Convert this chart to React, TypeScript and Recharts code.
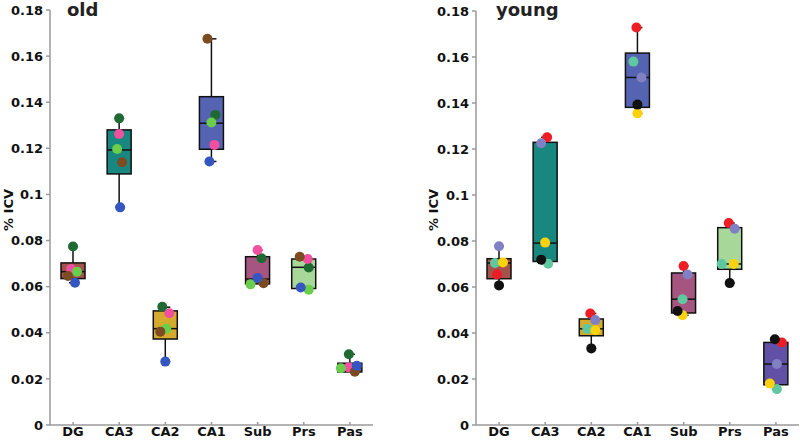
import { Bar, ComposedChart, XAxis, YAxis } from "recharts";

const categories = ["DG", "CA3", "CA2", "CA1", "Sub", "Prs", "Pas"];
const yTicks = [0, 0.02, 0.04, 0.06, 0.08, 0.1, 0.12, 0.14, 0.16, 0.18];

// old: box statistics per region
const oldLow = [0.0617, 0.0944, 0.0275, 0.1143, 0.0612, 0.0592, 0.023];
const oldQ1 = [0.0635, 0.1089, 0.0373, 0.1196, 0.0612, 0.0592, 0.023];
const oldMedian = [0.0665, 0.1193, 0.0418, 0.1309, 0.0633, 0.0684, 0.025];
const oldQ3 = [0.0703, 0.128, 0.0495, 0.1424, 0.073, 0.072, 0.0268];
const oldHigh = [0.0774, 0.133, 0.0511, 0.1675, 0.0759, 0.073, 0.0307];
// old: individual subjects
const oldDarkGreen = [0.0774, 0.133, 0.0513, 0.1345, 0.0723, 0.0683, 0.0307];
const oldPink = [0.0677, 0.1262, 0.0485, 0.1215, 0.0759, 0.072, 0.025];
const oldLightGreen = [0.0665, 0.1197, 0.0418, 0.1312, 0.061, 0.0587, 0.0246];
const oldBrown = [0.0646, 0.114, 0.0405, 0.1675, 0.0615, 0.073, 0.0231];
const oldBlue = [0.0617, 0.0944, 0.0275, 0.1143, 0.0638, 0.0596, 0.0257];

// young: box statistics per region
const youngLow = [0.0607, 0.0701, 0.0333, 0.1355, 0.0477, 0.0617, 0.0156];
const youngQ1 = [0.0636, 0.0711, 0.0388, 0.1381, 0.0487, 0.0677, 0.0175];
const youngMedian = [0.0704, 0.0791, 0.0418, 0.1511, 0.0547, 0.07, 0.0265];
const youngQ3 = [0.0723, 0.1229, 0.0461, 0.1617, 0.0661, 0.0858, 0.0359];
const youngHigh = [0.0777, 0.1251, 0.0485, 0.1728, 0.0691, 0.0878, 0.0373];
// young: individual subjects
const youngRed = [0.0654, 0.1251, 0.0485, 0.1728, 0.0691, 0.0878, 0.0359];
const youngLavender = [0.0777, 0.1225, 0.0456, 0.1511, 0.0654, 0.0853, 0.0265];
const youngMint = [0.0704, 0.0701, 0.0418, 0.158, 0.0547, 0.07, 0.0156];
const youngYellow = [0.0707, 0.0793, 0.0412, 0.1355, 0.0477, 0.07, 0.018];
const youngBlack = [0.0607, 0.0719, 0.0333, 0.1393, 0.0496, 0.0617, 0.0373];

// styling
const oldBoxColors = ["#a4524c", "#18877f", "#d5ab2d", "#5563b3", "#a5557f", "#a8d899", "#5858a8"];
const youngBoxColors = ["#a4524c", "#18877f", "#d5ab2d", "#5563b3", "#a5557f", "#a8d899", "#6250a6"];
const oldDotColors = ["#1e6a32", "#f0509e", "#6acd4c", "#7b4b22", "#3555c0"];
const youngDotColors = ["#ee1c25", "#8080c4", "#60c8a0", "#fcd20c", "#111111"];
// horizontal jitter (px) of each subject's dot, per region
const oldJitter = [[0, -2, 4, -5, 2], [0, 0, -2, 3, 1], [-3, 4, 1, -5, 0], [4, 3, 0, -4, -2], [4, 0, -7, 6, 0], [5, 4, 5, -4, -3], [-1, -1, -9, 5, 7]];
const youngJitter = [[-2, 0, -4, 4, 0], [2, -4, 3, 0, -4], [-1, 4, -4, 4, 0], [-1, 4, -4, 0, 0], [0, 4, -1, -1, -6], [-1, 5, -8, 4, 0], [6, 1, 1, -6, -1]];

const font = "'DejaVu Sans', sans-serif";
const axisGray = "#9a9a9a";

const buildRows = (low: number[], q1: number[], median: number[], q3: number[], high: number[], dots: number[][], colors: string[], jitter: number[][]) =>
  categories.map((name, i) => {
    const values = dots.map((s) => s[i]);
    return {
      name,
      low: low[i], q1: q1[i], median: median[i], q3: q3[i], high: high[i],
      dots: values, jitter: jitter[i], fill: colors[i],
      lo: Math.min(low[i], ...values), hi: Math.max(high[i], ...values),
    };
  });

const oldRows = buildRows(oldLow, oldQ1, oldMedian, oldQ3, oldHigh, [oldDarkGreen, oldPink, oldLightGreen, oldBrown, oldBlue], oldBoxColors, oldJitter);
const youngRows = buildRows(youngLow, youngQ1, youngMedian, youngQ3, youngHigh, [youngRed, youngLavender, youngMint, youngYellow, youngBlack], youngBoxColors, youngJitter);

const makeBoxShape = (dotColors: string[]) => (props: any) => {
  const { x, y, width, height, payload } = props;
  const top = Math.min(y, y + height);
  const span = Math.abs(height);
  const py = (v: number) => top + ((payload.hi - v) / (payload.hi - payload.lo)) * span;
  const cx = x + width / 2;
  const yQ1 = py(payload.q1), yQ3 = py(payload.q3), yLow = py(payload.low), yHigh = py(payload.high);
  return (
    <g>
      {payload.high > payload.q3 && <line x1={cx} x2={cx} y1={yHigh} y2={yQ3} stroke="#111" strokeWidth={1.5} />}
      {payload.high > payload.q3 && <line x1={cx - 4} x2={cx + 5} y1={yHigh} y2={yHigh} stroke="#111" strokeWidth={1.5} />}
      {payload.low < payload.q1 && <line x1={cx} x2={cx} y1={yQ1} y2={yLow} stroke="#111" strokeWidth={1.5} />}
      {payload.low < payload.q1 && <line x1={cx - 4} x2={cx + 5} y1={yLow} y2={yLow} stroke="#111" strokeWidth={1.5} />}
      <rect x={x} y={yQ3} width={width} height={yQ1 - yQ3} fill={payload.fill} stroke="#111" strokeWidth={1.5} />
      <line x1={x} x2={x + width} y1={py(payload.median)} y2={py(payload.median)} stroke="#111" strokeWidth={1.5} />
      {payload.dots.map((v: number, k: number) => (
        <circle key={k} cx={cx + payload.jitter[k]} cy={py(v)} r={5} fill={dotColors[k]} />
      ))}
    </g>
  );
};

const Panel = ({ rows, dotColors, axisWidth, right, top }: { rows: any[]; dotColors: string[]; axisWidth: number; right: number; top: number }) => (
  <ComposedChart width={400} height={440} data={rows} margin={{ top, right, bottom: 0, left: 0 }}>
    <XAxis dataKey="name" height={15} stroke={axisGray} strokeWidth={1.5} tickSize={-3} tickMargin={5}
      tick={{ fill: "#111", fontSize: 13, fontWeight: 700, fontFamily: font }} />
    <YAxis domain={[0, 0.18]} ticks={yTicks} width={axisWidth} stroke={axisGray} strokeWidth={1.5} tickSize={4} tickMargin={3}
      tickFormatter={(v: number) => (v === 0 ? "0" : String(+v.toFixed(2)))}
      tick={{ fill: "#111", fontSize: 13, fontWeight: 700, fontFamily: font }} />
    <Bar dataKey={(d: any) => [d.lo, d.hi]} barSize={24} isAnimationActive={false} shape={makeBoxShape(dotColors)} />
  </ComposedChart>
);

const labelStyle = { position: "absolute" as const, fontFamily: font, fontWeight: 700, color: "#111", whiteSpace: "nowrap" as const, lineHeight: 1 };

export default function App() {
  return (
    <div style={{ position: "absolute", left: 0, top: 0, width: 800, height: 440, background: "#fff", display: "flex" }}>
      <Panel rows={oldRows} dotColors={oldDotColors} axisWidth={50} right={27} top={10} />
      <Panel rows={youngRows} dotColors={youngDotColors} axisWidth={76} right={1} top={11} />
      <div style={{ ...labelStyle, left: 67, top: 1, fontSize: 18, color: "#222" }}>old</div>
      <div style={{ ...labelStyle, left: 496, top: 1, fontSize: 18, color: "#222" }}>young</div>
      <div style={{ ...labelStyle, left: 8, top: 210, fontSize: 13, transform: "translate(-50%, -50%) rotate(-90deg)" }}>% ICV</div>
      <div style={{ ...labelStyle, left: 433, top: 210, fontSize: 13, transform: "translate(-50%, -50%) rotate(-90deg)" }}>% ICV</div>
    </div>
  );
}
